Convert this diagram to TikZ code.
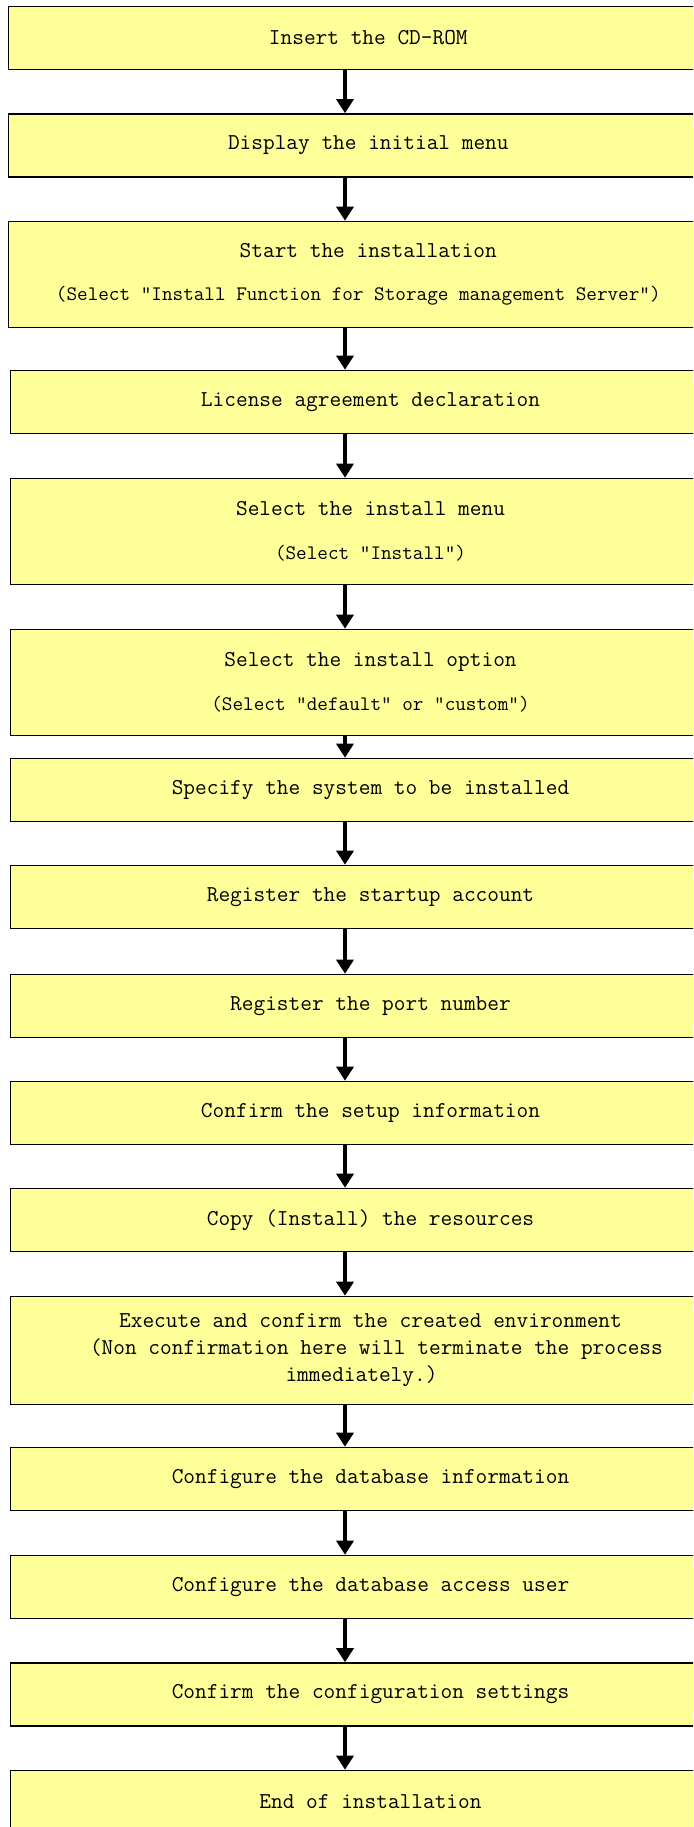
\documentclass[tikz,border=0pt]{standalone}
\usepackage{fontspec}
\usetikzlibrary{arrows.meta}
\definecolor{boxyellow}{RGB}{255,255,153}
\tikzset{
  stepbox/.style={draw=black, line width=1.6pt, fill=boxyellow, minimum width=720pt,
    anchor=west, inner sep=0pt, align=center, text=black,
    font=\ttfamily\fontsize{22.7}{27}\selectfont},
  shortbox/.style={stepbox, minimum height=63pt},
  tallbox/.style={stepbox, minimum height=106pt},
  arr/.style={line width=3.3pt, -{Triangle[width=17pt,length=14pt]}},
}
\newcommand\subline[1]{{\fontsize{20.6}{27}\selectfont #1}}
\begin{document}
\begin{tikzpicture}[x=1pt,y=-1pt]
\path[use as bounding box] (0,0) rectangle (693,1827);
\fill[white] (0,0) rectangle (693,1827);
\clip (0,0) rectangle (693,1827);
\coordinate (ax) at (345,0);
\node[shortbox] (b1) at (7.5,38) {Insert the CD-ROM};
\node[shortbox] (b2) at (7.5,145.5) {Display the initial menu};
\node[tallbox] (b3) at (7.5,274.5) {Start the installation\\[16.5pt]\subline{(Select "Install Function for Storage management Server")\hspace*{20pt}}};
\node[shortbox] (b4) at (9.7,402) {License agreement declaration};
\node[tallbox] (b5) at (9.7,531.5) {Select the install menu\\[16.5pt]\subline{(Select "Install")}};
\node[tallbox] (b6) at (9.7,682.5) {Select the install option\\[16.5pt]\subline{(Select "default" or "custom")}};
\node[shortbox] (b7) at (9.7,790) {Specify the system to be installed};
\node[shortbox] (b8) at (9.7,897) {Register the startup account};
\node[shortbox] (b9) at (9.7,1006) {Register the port number};
\node[shortbox] (b10) at (9.7,1113) {Confirm the setup information};
\node[shortbox] (b11) at (9.7,1220) {Copy (Install) the resources};
\node[stepbox, minimum height=108pt] (b12) at (9.7,1350.5) {Execute and confirm the created environment\\\hspace*{0.525em}(Non confirmation here will terminate the process\\immediately.)\hspace*{18pt}};
\node[shortbox] (b13) at (9.7,1479) {Configure the database information};
\node[shortbox] (b14) at (9.7,1587) {Configure the database access user};
\node[shortbox] (b15) at (9.7,1694.5) {Confirm the configuration settings};
\node[shortbox] (b16) at (9.7,1802) {End of installation};
\foreach \a/\b in {b1/b2,b2/b3,b3/b4,b4/b5,b5/b6,b6/b7,b7/b8,b8/b9,b9/b10,b10/b11,b11/b12,b12/b13,b13/b14,b14/b15,b15/b16}
  \draw[arr] (\a.south -| ax) -- (\b.north -| ax);
\end{tikzpicture}
\end{document}
